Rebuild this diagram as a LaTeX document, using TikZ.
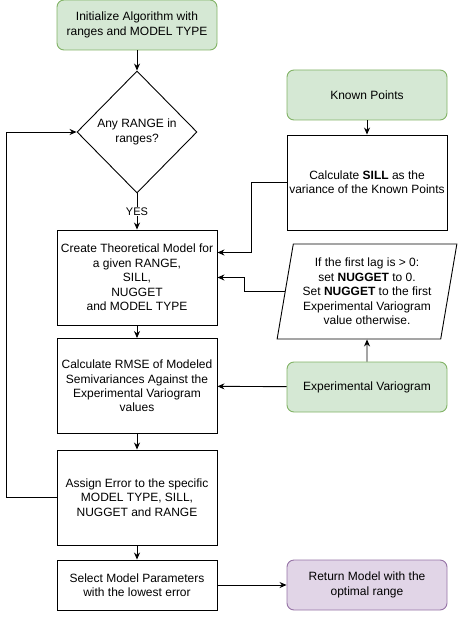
\documentclass[tikz,border=0pt]{standalone}
\usepackage{fontspec}
\setmainfont{Liberation Sans}
\usepackage{xcolor}
\usetikzlibrary{shapes.geometric,arrows.meta,positioning}

\definecolor{inputfill}{HTML}{D5E8D4}
\definecolor{inputline}{HTML}{82B366}
\definecolor{outputfill}{HTML}{E1D5E7}
\definecolor{outputline}{HTML}{9673A6}

\begin{document}
\begin{tikzpicture}[
    x=1pt, y=-1pt,
    >={Stealth[length=7pt,width=6pt]},
    line width=0.9pt,
    every node/.style={font=\fontsize{12}{14.4}\selectfont, align=center, inner sep=2pt},
    proc/.style={draw, rectangle, minimum width=160pt, minimum height=95pt},
    shortproc/.style={draw, rectangle, minimum width=160pt, minimum height=50pt},
    input/.style={draw=inputline, fill=inputfill, rounded corners=7pt, minimum width=160pt, minimum height=50pt},
    output/.style={draw=outputline, fill=outputfill, rounded corners=7pt, minimum width=160pt, minimum height=50pt},
    decision/.style={draw, diamond, inner sep=0pt, minimum width=120pt, minimum height=122pt},
    data/.style={draw, trapezium, trapezium left angle=78, trapezium right angle=102,
                 trapezium stretches=true, minimum width=180pt, minimum height=95pt, inner sep=0pt}
]
  \useasboundingbox (0,0) rectangle (458,620);

  % nodes
  \node[input] (init) at (137,25) {Initialize Algorithm with\\ranges and MODEL TYPE};
  \node[decision] (anyrange) at (137,132) {Any RANGE in\\ranges?};
  \node[proc] (create) at (137,277.5) {Create Theoretical Model for\\a given RANGE,\\SILL,\\NUGGET\\and MODEL TYPE};
  \node[proc] (rmse) at (137,386) {Calculate RMSE of Modeled\\Semivariances Against the\\Experimental Variogram\\values};
  \node[proc] (assign) at (137,497.5) {Assign Error to the specific\\MODEL TYPE, SILL,\\NUGGET and RANGE};
  \node[shortproc] (select) at (137,585) {Select Model Parameters\\with the lowest error};
  \node[output] (result) at (367,585) {Return Model with the\\optimal range};

  \node[input] (known) at (367,95) {Known Points};
  \node[proc] (sill) at (367,182.5) {Calculate \textbf{SILL} as the\\variance of the Known Points};
  \node[data] (nugget) at (367,291.5) {If the first lag is > 0:\\set \textbf{NUGGET} to 0.\\Set \textbf{NUGGET} to the first\\Experimental Variogram\\value otherwise.};
  \node[input] (expvario) at (367,387) {Experimental Variogram};

  % edges
  \draw[->] (init) -- (anyrange);
  \draw[->] (anyrange) -- node[fill=white, inner sep=1pt, font=\fontsize{11}{13}\selectfont] {YES} (create);
  \draw[->] (create) -- (rmse);
  \draw[->] (rmse) -- (assign);
  \draw[->] (assign) -- (select);
  \draw[->] (select) -- (result);
  \draw[->] (assign.west) -- ++(-50,0) |- (anyrange.west);

  \draw[->] (known) -- (sill);
  \draw[->] (sill.west) -- ++(-35,0) |- ([yshift=25pt]create.east);
  \draw[->] (nugget.west) -- ++(-40,0) |- (create.east);
  \draw[->] (expvario) -- (nugget);
  \draw[->] (expvario) -- (rmse);
\end{tikzpicture}
\end{document}
